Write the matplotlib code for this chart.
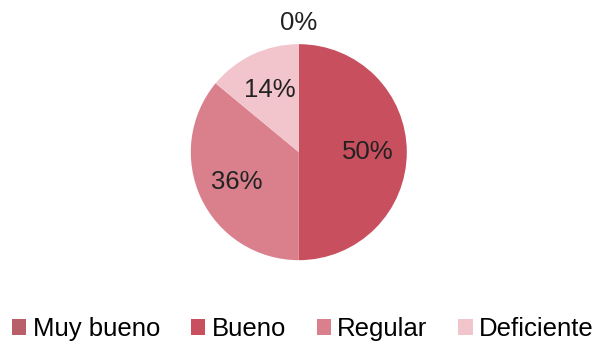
import matplotlib
matplotlib.use('Agg')
import matplotlib.pyplot as plt

plt.rcParams['font.family'] = ['Liberation Sans', 'DejaVu Sans']

categories = ['Muy bueno', 'Bueno', 'Regular', 'Deficiente']
values = [0, 50, 36, 14]
colors = ['#b85f6a', '#c84f5e', '#d9808c', '#f2c5cd']

fig = plt.figure(figsize=(6.0, 3.49), dpi=100)
# square axes for the pie, centred near (299, 152) px with radius ~108 px
ax = fig.add_axes([0.318, 0.2545, 0.36, 0.619])

wedges, texts, autotexts = ax.pie(values, colors=colors, startangle=90,
                                  counterclock=False, autopct='%1.0f%%',
                                  pctdistance=0.64, radius=1.0,
                                  wedgeprops=dict(linewidth=0),
                                  textprops=dict(fontsize=18.5, color='#222222'))
# the empty slice gets its label above the pie
autotexts[0].set_position((0, 1.2))
for t in autotexts:
    t.set_clip_on(False)
ax.set_xlim(-1, 1)
ax.set_ylim(-1, 1)
ax.axis('off')

fig.legend(wedges, categories, loc='center', bbox_to_anchor=(0.505, 0.057),
           ncol=4, frameon=False, fontsize=18.5, handlelength=0.55,
           handleheight=0.55, handletextpad=0.25, columnspacing=1.2)

fig.savefig('out.png', dpi=100)
